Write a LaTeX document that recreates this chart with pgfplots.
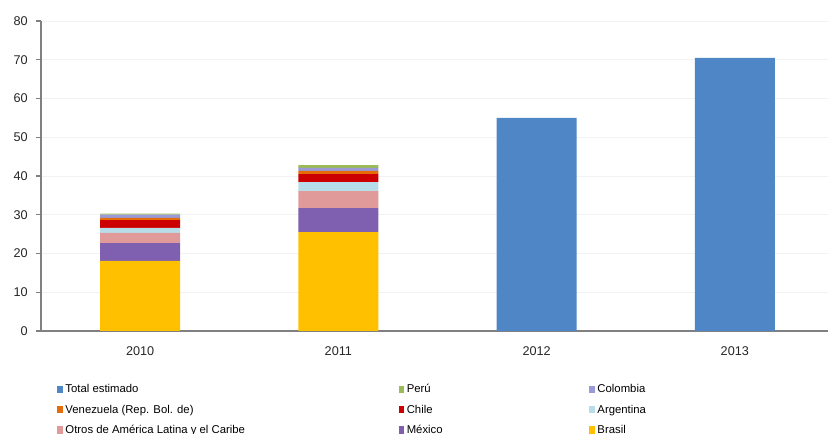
\documentclass[border=0pt]{standalone}
\usepackage{fontspec}
\setmainfont{Liberation Sans}
\usepackage{pgfplots}
\pgfplotsset{compat=1.18}
\definecolor{ctotal}{HTML}{4F86C6}
\definecolor{cperu}{HTML}{9BBB59}
\definecolor{ccol}{HTML}{9A9AD8}
\definecolor{cven}{HTML}{E46C0A}
\definecolor{cchi}{HTML}{CC0000}
\definecolor{carg}{HTML}{B7DEE8}
\definecolor{cotr}{HTML}{E09A9A}
\definecolor{cmex}{HTML}{7F5FAF}
\definecolor{cbra}{HTML}{FFC000}
\begin{document}
\begin{tikzpicture}
\begin{axis}[
  name=ax,
  scale only axis,
  width=590.25pt, height=232.5pt,
  ybar stacked, bar width=60pt,
  xmin=-0.5, xmax=3.47, ymin=0, ymax=80,
  xtick={0,1,2,3}, xticklabels={2010,2011,2012,2013},
  minor xtick={-0.5,0.5,1.5,2.5},
  ytick={0,10,...,80},
  axis x line*=bottom, axis y line*=left,
  axis line style={black!50, line width=0.8pt},
  major tick length=3.5pt, minor tick length=3.5pt,
  tick align=outside,
  x tick style={draw=none},
  minor x tick style={black!50, line width=0.8pt},
  y tick style={black!50, line width=0.8pt},
  ymajorgrids, major grid style={black!5, line width=0.5pt},
  tick label style={font=\fontsize{9.5}{11}\selectfont, text=black!85},
  /pgf/number format/assume math mode=true,
  xticklabel style={yshift=-5pt},
  yticklabel style={xshift=-3pt},
  legend columns=3,
  legend style={draw=none, at={(rel axis cs:0.0155,-0.155)}, anchor=north west,
    font=\fontsize{8.5}{10}\selectfont, column sep=0pt, row sep=3.5pt},
  legend cell align=left,
  legend image code/.code={\fill[#1] (0pt,-2.5pt) rectangle (4pt,3pt);},
]
\addplot[fill=ctotal, draw=none, forget plot] coordinates {(0,0) (1,0) (2,55.0) (3,70.5)};
\addplot[fill=cbra, draw=none, forget plot] coordinates {(0,18.1) (1,25.5) (2,0) (3,0)};
\addplot[fill=cmex, draw=none, forget plot] coordinates {(0,4.6) (1,6.2) (2,0) (3,0)};
\addplot[fill=cotr, draw=none, forget plot] coordinates {(0,2.6) (1,4.4) (2,0) (3,0)};
\addplot[fill=carg, draw=none, forget plot] coordinates {(0,1.3) (1,2.3) (2,0) (3,0)};
\addplot[fill=cchi, draw=none, forget plot] coordinates {(0,2.0) (1,2.1) (2,0) (3,0)};
\addplot[fill=cven, draw=none, forget plot] coordinates {(0,0.6) (1,0.8) (2,0) (3,0)};
\addplot[fill=ccol, draw=none, forget plot] coordinates {(0,0.8) (1,0.8) (2,0) (3,0)};
\addplot[fill=cperu, draw=none, forget plot] coordinates {(0,0.3) (1,0.7) (2,0) (3,0)};
\addlegendimage{fill=ctotal, draw=none}\addlegendentry{\makebox[248pt][l]{Total estimado}}
\addlegendimage{fill=cperu, draw=none}\addlegendentry{\makebox[135pt][l]{Perú}}
\addlegendimage{fill=ccol, draw=none}\addlegendentry{Colombia}
\addlegendimage{fill=cven, draw=none}\addlegendentry{Venezuela (Rep. Bol. de)}
\addlegendimage{fill=cchi, draw=none}\addlegendentry{Chile}
\addlegendimage{fill=carg, draw=none}\addlegendentry{Argentina}
\addlegendimage{fill=cotr, draw=none}\addlegendentry{Otros de América Latina y el Caribe}
\addlegendimage{fill=cmex, draw=none}\addlegendentry{México}
\addlegendimage{fill=cbra, draw=none}\addlegendentry{Brasil}
\end{axis}
\pgfresetboundingbox
\path ([xshift=-30.75pt,yshift=-77.25pt]ax.south west) rectangle ([xshift=2.25pt,yshift=15.75pt]ax.north east);
\end{tikzpicture}
\end{document}
